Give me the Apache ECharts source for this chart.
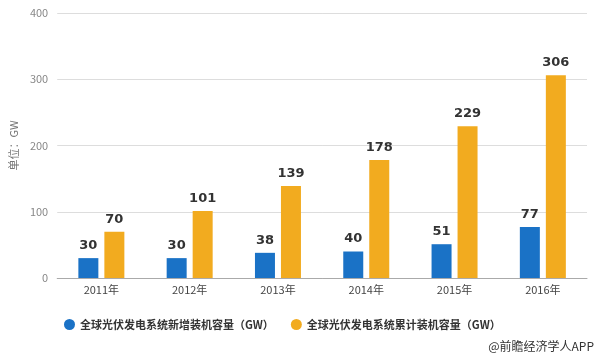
<!DOCTYPE html>
<html><head><meta charset="utf-8">
<script src="https://cdn.jsdelivr.net/npm/echarts@6/dist/echarts.min.js"></script>
<style>html,body{margin:0;padding:0;background:#fff}#c{width:600px;height:356px}</style>
</head><body><div id="c"></div>
<script>
const categories = ['2011年','2012年','2013年','2014年','2015年','2016年'];
const newCapacity = [30, 30, 38, 40, 51, 77];
const cumCapacity = [70, 101, 139, 178, 229, 306];
const seriesNames = ['全球光伏发电系统新增装机容量（GW）','全球光伏发电系统累计装机容量（GW）'];
const yTicks = [0, 100, 200, 300, 400];

const chart = echarts.init(document.getElementById('c'));
const labelStyle = {show:true, position:'top', color:'#333', fontSize:13, fontWeight:'bold', fontFamily:'DejaVu Sans', distance:6};
chart.setOption({
  animation:false,
  textStyle:{fontFamily:'Noto Sans CJK SC'},
  grid:{left:53, right:13, top:13, bottom:78},
  legend:{bottom:21, left:59, itemGap:17, icon:'circle', itemWidth:11, itemHeight:11,
    textStyle:{fontSize:11, fontWeight:'bold', color:'#333'},
    data:seriesNames},
  graphic:[{type:'text', right:6, bottom:4, style:{text:'@前瞻经济学人APP', fontSize:12, fill:'#333', fontFamily:'Noto Sans CJK SC'}}],
  xAxis:{type:'category', data:categories,
    axisLine:{lineStyle:{color:'#aaa'}},
    axisTick:{alignWithLabel:true, length:4, lineStyle:{color:'#aaa'}},
    axisLabel:{color:'#444', fontSize:11, margin:6}},
  yAxis:{type:'value', min:yTicks[0], max:yTicks[yTicks.length-1], interval:100,
    name:'单位：GW', nameLocation:'middle', nameGap:34, nameRotate:90,
    nameTextStyle:{color:'#777', fontSize:11},
    axisLine:{show:false}, axisTick:{show:false},
    axisLabel:{color:'#888', fontSize:11, margin:9},
    splitLine:{lineStyle:{color:'#ddd'}}},
  series:[
    {name:seriesNames[0], type:'bar', data:newCapacity, barWidth:20, barGap:'30%',
     itemStyle:{color:'#1a72c6'}, label:labelStyle},
    {name:seriesNames[1], type:'bar', data:cumCapacity, barWidth:20,
     itemStyle:{color:'#f2ab1f'}, label:labelStyle}
  ]
});
</script></body></html>
